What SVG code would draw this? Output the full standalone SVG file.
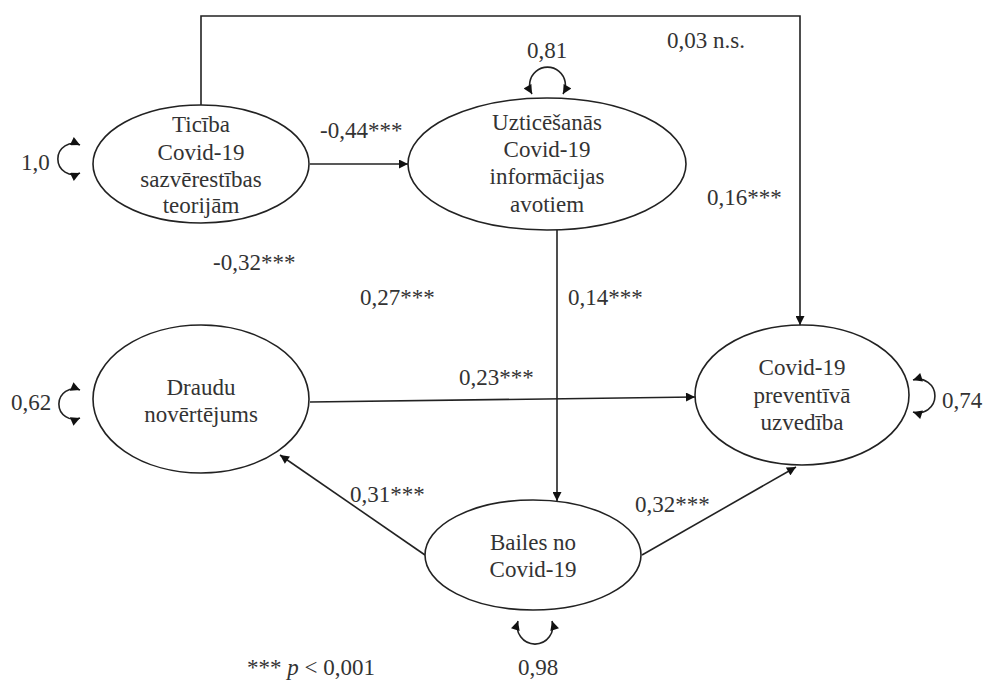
<svg xmlns="http://www.w3.org/2000/svg" width="984" height="680" viewBox="0 0 984 680">
  <style>
    .node { fill: #ffffff; stroke: #222222; stroke-width: 1.6; }
    .edge { fill: none; stroke: #222222; stroke-width: 1.6; }
    .lbl { font-family: "Liberation Serif", "Times New Roman", serif; font-size: 23px; fill: #333333; }
    .ctr { text-anchor: middle; }
  </style>
  <defs>
    <marker id="arrow" viewBox="0 0 10 10" refX="10" refY="5" markerWidth="10" markerHeight="9" markerUnits="userSpaceOnUse" orient="auto-start-reverse">
      <path d="M0,0 L10,5 L0,10 z" fill="#111111"/>
    </marker>
  </defs>

  <rect width="984" height="680" fill="#ffffff"/>

  <!-- connectors -->
  <g id="connectors">
    <path class="edge" d="M201,105 V16 H800 V325" marker-end="url(#arrow)"/>
    <path class="edge" d="M310,164 H408" marker-end="url(#arrow)"/>
    <path class="edge" d="M557,230 V501" marker-end="url(#arrow)"/>
    <path class="edge" d="M310,402 L695,397" marker-end="url(#arrow)"/>
    <path class="edge" d="M425,555 L280,455" marker-end="url(#arrow)"/>
    <path class="edge" d="M642,555 L796,467" marker-end="url(#arrow)"/>
    <!-- residual variance loops -->
    <path class="edge" d="M80,145 A15.5,15.5 0 1 0 80,173" marker-start="url(#arrow)" marker-end="url(#arrow)"/>
    <path class="edge" d="M80,390 A15.2,15.2 0 1 0 80,418" marker-start="url(#arrow)" marker-end="url(#arrow)"/>
    <path class="edge" d="M532,94 A17.9,17.9 0 1 1 563,94" marker-start="url(#arrow)" marker-end="url(#arrow)"/>
    <path class="edge" d="M913,380 A16.8,16.8 0 1 1 913,412" marker-start="url(#arrow)" marker-end="url(#arrow)"/>
    <path class="edge" d="M518,621 A17.8,17.8 0 1 0 552,621" marker-start="url(#arrow)" marker-end="url(#arrow)"/>
  </g>

  <!-- path coefficients -->
  <g id="edge-labels">
    <text class="lbl" x="667" y="48">0,03 n.s.</text>
    <text class="lbl" x="320" y="138">-0,44***</text>
    <text class="lbl" x="707" y="205">0,16***</text>
    <text class="lbl" x="213" y="270">-0,32***</text>
    <text class="lbl" x="360" y="305">0,27***</text>
    <text class="lbl" x="568" y="305">0,14***</text>
    <text class="lbl" x="459" y="385">0,23***</text>
    <text class="lbl" x="350" y="502">0,31***</text>
    <text class="lbl" x="635" y="512">0,32***</text>
    <text class="lbl" x="21" y="170">1,0</text>
    <text class="lbl" x="11" y="410">0,62</text>
    <text class="lbl ctr" x="547" y="58">0,81</text>
    <text class="lbl" x="942" y="408">0,74</text>
    <text class="lbl ctr" x="538" y="675">0,98</text>
    <text class="lbl" x="247" y="675">*** <tspan font-style="italic">p</tspan> &lt; 0,001</text>
  </g>

  <g id="node-ticiba">
    <ellipse class="node" cx="201" cy="164" rx="108" ry="59"/>
    <text class="lbl ctr" x="201" y="132">Ticība</text>
    <text class="lbl ctr" x="201" y="160">Covid-19</text>
    <text class="lbl ctr" x="201" y="187">sazvērestības</text>
    <text class="lbl ctr" x="201" y="213">teorijām</text>
  </g>

  <g id="node-uzticesanas">
    <ellipse class="node" cx="547" cy="164" rx="139" ry="66"/>
    <text class="lbl ctr" x="547" y="130">Uzticēšanās</text>
    <text class="lbl ctr" x="547" y="157">Covid-19</text>
    <text class="lbl ctr" x="547" y="184">informācijas</text>
    <text class="lbl ctr" x="547" y="212">avotiem</text>
  </g>

  <g id="node-draudu">
    <ellipse class="node" cx="201" cy="399" rx="108" ry="74"/>
    <text class="lbl ctr" x="201" y="395">Draudu</text>
    <text class="lbl ctr" x="201" y="422">novērtējums</text>
  </g>

  <g id="node-preventiva">
    <ellipse class="node" cx="802" cy="395" rx="107" ry="70"/>
    <text class="lbl ctr" x="802" y="375">Covid-19</text>
    <text class="lbl ctr" x="802" y="403">preventīvā</text>
    <text class="lbl ctr" x="802" y="430">uzvedība</text>
  </g>

  <g id="node-bailes">
    <ellipse class="node" cx="533" cy="555" rx="108" ry="55"/>
    <text class="lbl ctr" x="533" y="550">Bailes no</text>
    <text class="lbl ctr" x="533" y="577">Covid-19</text>
  </g>
</svg>
